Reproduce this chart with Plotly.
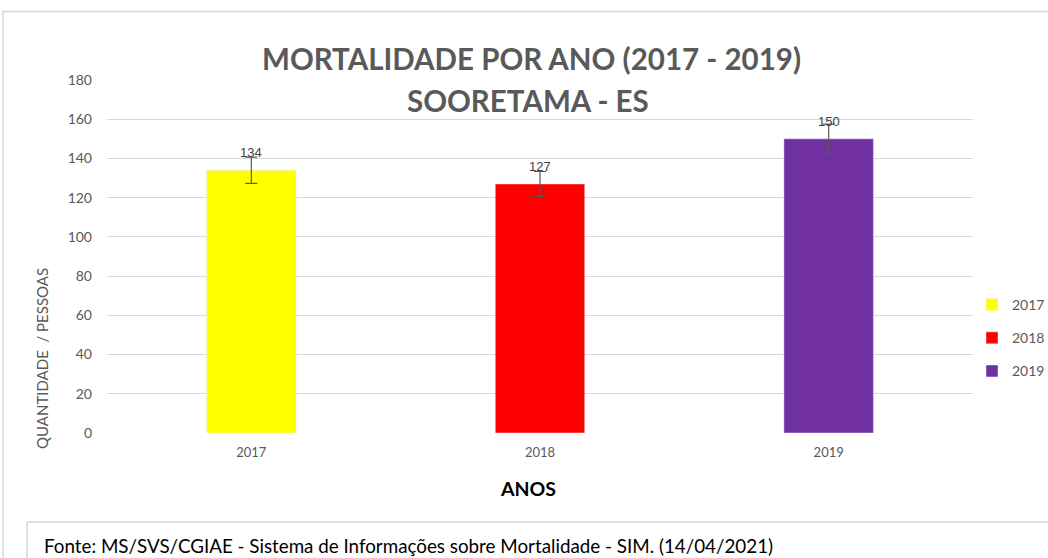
import plotly.graph_objects as go

# Chart data
anos = ["2017", "2018", "2019"]
obitos = [134, 127, 150]
cores = ["#FFFF00", "#FF0000", "#7030A0"]
erro_pct = 5  # error bars, percentage

W, H = 1048, 558
L, R, T, B = 107, 973, 80, 433  # plot area in pixels


def px(x):
    return (x - L) / (R - L)


def py(y):
    return (B - y) / (B - T)


fig = go.Figure()
for i, (ano, val, cor) in enumerate(zip(anos, obitos, cores)):
    fig.add_trace(go.Bar(x=[ano], y=[val], name=ano, marker_color=cor,
                         legendgroup=ano, width=0.31,
                         error_y=dict(type="percent", value=erro_pct,
                                      color="#595959", thickness=1.2, width=6)))
    # category axis: use the index so "2017" isn't read as a serial number
    fig.add_annotation(x=i, y=val, text=str(val), showarrow=False,
                       xanchor="center", yanchor="bottom", yshift=8,
                       font=dict(size=13, color="#404040", family="Liberation Sans"))

grey = "#595959"
fig.update_layout(
    width=W, height=H,
    margin=dict(l=L, r=W - R, t=T, b=H - B, autoexpand=False),
    plot_bgcolor="white", paper_bgcolor="white",
    barmode="overlay",
    font=dict(family="Lato, Open Sans, sans-serif", color=grey),
    showlegend=True,
    legend=dict(x=px(972), y=py(338), xanchor="left", yanchor="middle",
                font=dict(size=14, color=grey, family="Lato"),
                tracegroupgap=12, itemwidth=30, bgcolor="rgba(0,0,0,0)"),
)
fig.update_xaxes(type="category", range=[-0.5, 2.5], showgrid=False, showline=False,
                 ticks="", categoryorder="array", categoryarray=anos, ticklabelstandoff=10,
                 tickfont=dict(size=13, color=grey, family="Lato"))
fig.update_yaxes(range=[0, 180], dtick=20, showgrid=True, gridcolor="#d9d9d9",
                 gridwidth=1, zeroline=False, showline=False, ticks="",
                 ticklabelstandoff=14,
                 tickfont=dict(size=14, color=grey, family="Lato"))

# title (two lines)
fig.add_annotation(x=px(531), y=py(58), xref="paper", yref="paper",
                   xanchor="center", yanchor="middle",
                   text="<b>MORTALIDADE POR ANO (2017 - 2019)</b>", showarrow=False,
                   font=dict(size=29.5, color=grey, family="Lato"))
fig.add_annotation(x=px(528), y=py(100), xref="paper", yref="paper",
                   xanchor="center", yanchor="middle",
                   text="<b>SOORETAMA - ES</b>", showarrow=False,
                   font=dict(size=29.5, color=grey, family="Lato"))

# axis titles
fig.add_annotation(x=px(528), y=py(488), xref="paper", yref="paper", text="<b>ANOS</b>",
                   xanchor="center", yanchor="middle",
                   showarrow=False, font=dict(size=19.5, color="black", family="Lato"))
fig.add_annotation(x=px(42), y=py(359), xref="paper", yref="paper",
                   xanchor="center", yanchor="middle",
                   text="QUANTIDADE  / PESSOAS", textangle=-90, showarrow=False,
                   font=dict(size=15, color=grey, family="Lato"))

# outer chart border and source box
fig.add_shape(type="rect", xref="paper", yref="paper",
              x0=px(3), x1=px(1060), y0=py(570), y1=py(11.5),
              line=dict(color="#d9d9d9", width=1.5), fillcolor="rgba(0,0,0,0)", layer="below")
fig.add_shape(type="rect", xref="paper", yref="paper",
              x0=px(27), x1=px(1060), y0=py(570), y1=py(522),
              line=dict(color="#bfbfbf", width=1), fillcolor="rgba(0,0,0,0)")
fig.add_annotation(x=px(42), y=py(545), xref="paper", yref="paper",
                   xanchor="left", yanchor="middle",
                   text="Fonte: MS/SVS/CGIAE - Sistema de Informações sobre Mortalidade - SIM. (14/04/2021)",
                   showarrow=False, font=dict(size=18.8, color="black", family="Lato"))

fig.write_html("out.html", config={"displayModeBar": False},
               post_script="document.body.style.margin='0';")
